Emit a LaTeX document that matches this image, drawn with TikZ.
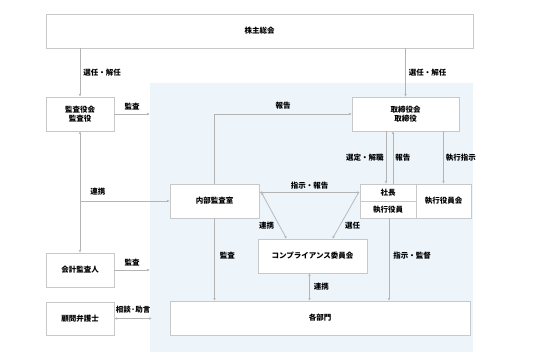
\documentclass[tikz,border=0pt]{standalone}
\usepackage{fontspec}
\setmainfont{Noto Sans CJK JP}
\usepackage{tikz}
\usetikzlibrary{arrows.meta,positioning,calc}
\definecolor{lineg}{HTML}{B4B4B4}
\definecolor{boxg}{HTML}{C8C8C8}
\definecolor{bgblue}{HTML}{EDF4FA}

\begin{document}
\begin{tikzpicture}[x=1pt,y=-1pt,
    box/.style={rectangle, draw=boxg, line width=0.8pt, fill=white, minimum width=#1, minimum height=34pt, inner sep=0pt, font=\fontsize{7.5}{9.5}\selectfont\bfseries, align=center},
    lbl/.style={font=\fontsize{7.5}{9}\selectfont\bfseries, inner sep=1pt},
    arr/.style={-{Triangle[length=2.6pt,width=2.2pt]}, draw=lineg, line width=0.7pt},
    arrb/.style={{Triangle[length=2.6pt,width=2.2pt]}-{Triangle[length=2.6pt,width=2.2pt]}, draw=lineg, line width=0.7pt}
]
\useasboundingbox (0,0) rectangle (535,363);
\node[fill=bgblue, minimum width=323pt, minimum height=269pt, inner sep=0pt] (inner) at (311.5,217.5) {};

\node[box=427pt] (soukai) at (259.5,31) {株主総会};
\node[box=68pt] (kansa) at (80,114) {監査役会\\監査役};
\node[box=107pt] (board) at (405.5,114) {取締役会\\取締役};
\node[box=89pt] (naibu) at (214.5,201) {内部監査室};
\node[box=56pt, minimum height=17pt] (shacho) at (388,192.5) {社長};
\node[box=56pt, minimum height=17pt] (shikko) at (388,209.5) {執行役員};
\node[box=55pt] (kaigi) at (443.5,201) {執行役員会};
\node[box=109pt] (compl) at (312.5,256) {コンプライアンス委員会};
\node[box=68pt] (kaikei) at (80,270) {会計監査人};
\node[box=68pt, minimum height=33pt] (bengo) at (80,318.5) {顧問弁護士};
\node[box=300pt] (bumon) at (320,318) {各部門};

\draw[arr] (soukai.south -| kansa.north) -- (kansa.north) node[midway, right=2pt, lbl] {選任・解任};
\draw[arr] (soukai.south -| board.north) -- (board.north) node[midway, right=2pt, lbl] {選任・解任};
\draw[arr] (kansa.east) -- (kansa.east -| inner.west) node[midway, above=3pt, lbl] {監査};
\draw[arr] (naibu.north) |- (board.west) node[pos=0.75, above=3pt, lbl] {報告};
\draw[arrb] (kansa.south) -- (kaikei.north);
\draw[arr] (kansa.south |- naibu.west) -- (naibu.west) node[pos=0.1, above=4pt, anchor=south west, lbl] {連携};
\draw[arr] ([xshift=-2pt]shacho.north |- board.south) -- ([xshift=-2pt]shacho.north) node[midway, left=1pt, lbl] {選定・解職};
\draw[arr] ([xshift=5pt]shacho.north) -- ([xshift=5pt]shacho.north |- board.south) node[midway, right=1pt, lbl] {報告};
\draw[arr] (kaigi.north |- board.south) -- (kaigi.north) node[midway, right=1pt, lbl] {執行指示};
\draw[arrb] (naibu.east |- shacho.west) -- (shacho.west) node[midway, above=2pt, lbl] {指示・報告};
\draw[arrb] ([xshift=2pt]naibu.east |- shacho.west) -- ([xshift=-26pt]compl.north) node[pos=0.72, left=4pt, lbl] {連携};
\draw[arr] ([xshift=-1pt]shacho.west) -- ([xshift=20pt]compl.north) node[pos=0.72, right=4pt, lbl] {選任};
\draw[arr] (naibu.south) -- (naibu.south |- bumon.north) node[pos=0.45, right=4pt, lbl] {監査};
\draw[arrb] ([xshift=-3pt]compl.south) -- ([xshift=-3pt]compl.south |- bumon.north) node[midway, right=3pt, lbl] {連携};
\draw[arr] ([xshift=1pt]shikko.south) -- ([xshift=1pt]shikko.south |- bumon.north) node[pos=0.45, right=3pt, lbl] {指示・監督};
\draw[arr] (kaikei.east) -- (kaikei.east -| inner.west) node[midway, above=3pt, lbl] {監査};
\draw[arrb] (bengo.east) -- ([xshift=2pt]bengo.east -| inner.west) node[midway, above=4pt, lbl] {相談·助言};
\end{tikzpicture}
\end{document}
